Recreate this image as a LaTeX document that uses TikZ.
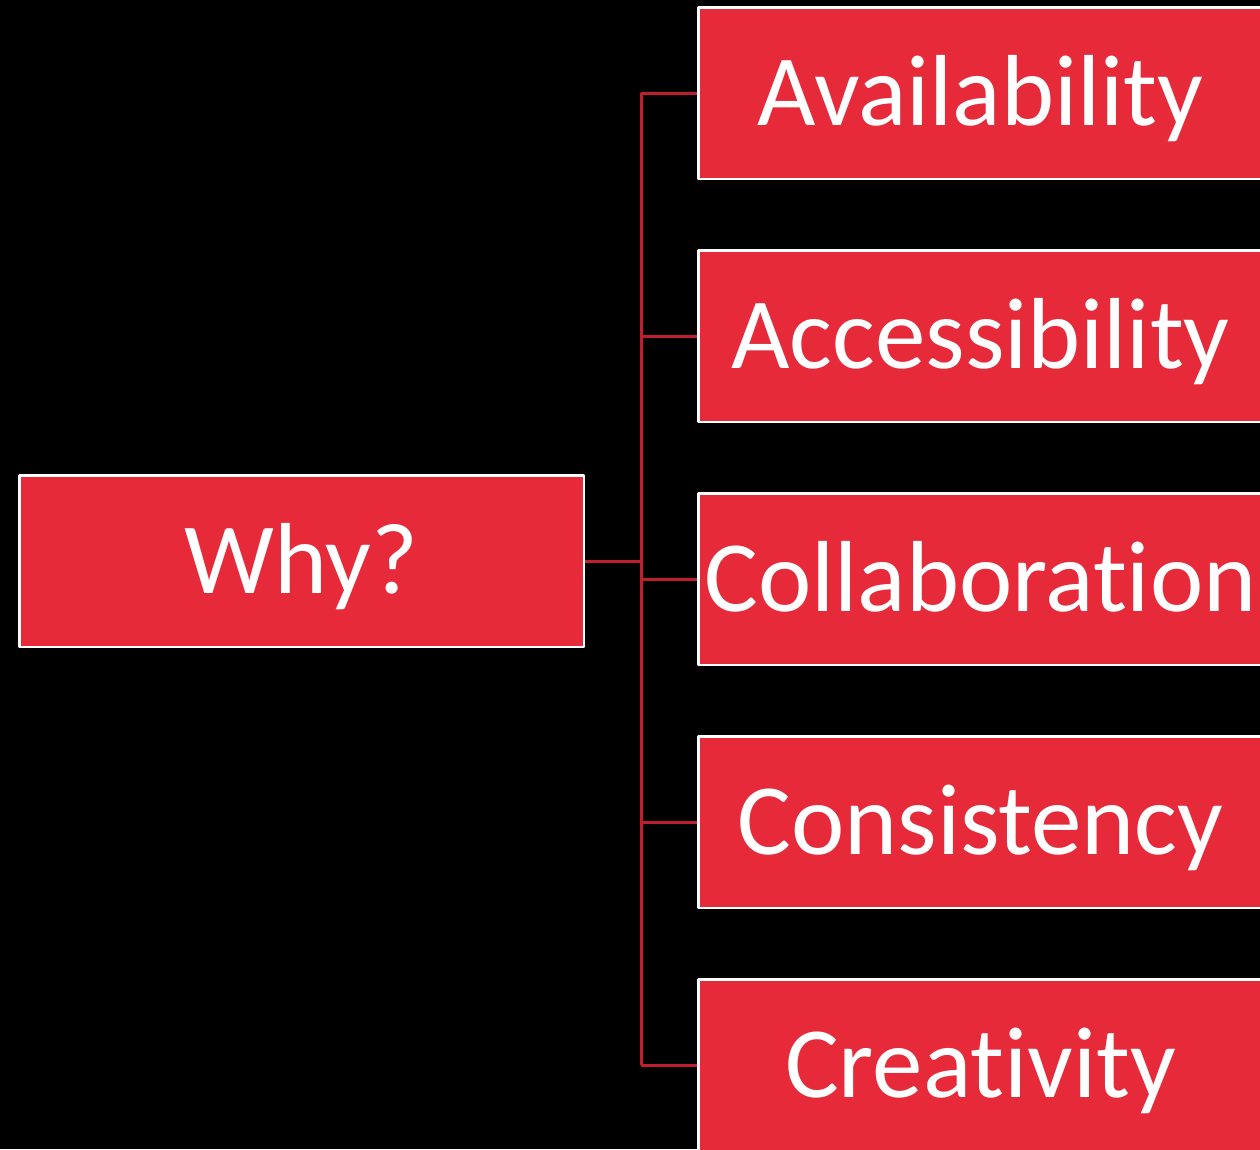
\documentclass[tikz,border=0pt]{standalone}
\usepackage{fontspec}
\setmainfont{Carlito}[Ligatures={NoCommon}]
\definecolor{boxred}{HTML}{E72A3A}
\definecolor{linkred}{HTML}{BE1E2D}
\begin{document}
\begin{tikzpicture}[x=1pt,y=-1pt, line join=round,
    box/.style={draw=white,line width=2.5pt,fill=boxred,text=white,
      minimum width=564.5pt,minimum height=171.5pt,inner sep=0pt,
      text height=64pt,text depth=0pt,
      font=\fontsize{101}{110}\selectfont},
    link/.style={draw=linkred,line width=3pt}]
        \fill[black] (0,0) rectangle (1260,1149);
        \useasboundingbox (0,0) rectangle (1260,1149);
        \node[box] (why) at (301.5,561) {Why?};
        \foreach \name [count=\i] in {Availability,Accessibility,Collaboration,Consistency,Creativity}
          \node[box] (b\i) at (980.5,{93+243*(\i-1)}) {\name};
        \coordinate (spine) at (641,0);
        \draw[link] (b1.west -| spine) -- (b5.west -| spine);
        \draw[link] (why.east) -- (why.east -| spine);
        \foreach \i in {1,...,5}
          \draw[link] (b\i.west) -- (b\i.west -| spine);
\end{tikzpicture}
\end{document}
